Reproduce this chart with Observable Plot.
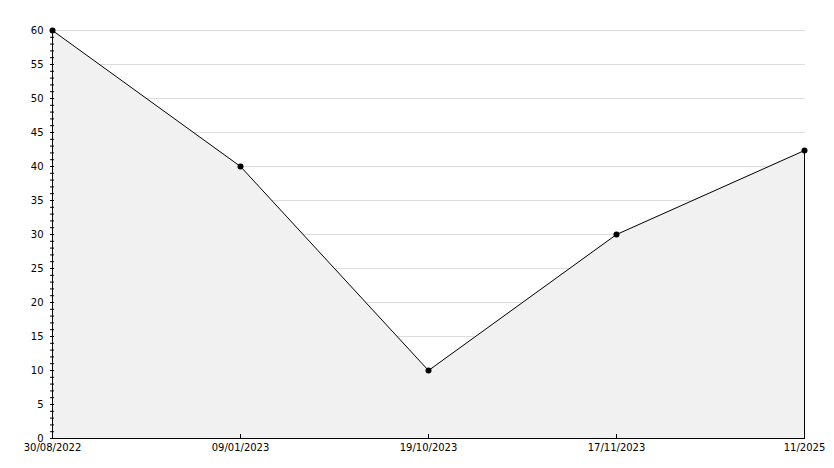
<!DOCTYPE html>
<html><head><meta charset="utf-8">
<script src="https://cdn.jsdelivr.net/npm/d3@7"></script>
<script src="https://cdn.jsdelivr.net/npm/@observablehq/plot@0.6"></script>
<style>body{margin:0;background:#fff}</style>
</head><body><div id="chart"></div>
<script>
const dates = ["30/08/2022", "09/01/2023", "19/10/2023", "17/11/2023", "11/2025"];
const values = [60, 40, 10, 30, 42.35];
const yLabelTicks = [0, 5, 10, 15, 20, 25, 30, 35, 40, 45, 50, 55, 60];
const yMinorTicks = d3.range(0, 61, 1);

const data = dates.map((d, i) => ({date: d, value: values[i]}));
const W = 834, H = 468, mL = 50, mR = 29, mT = 30, mB = 30;
const pw = W - mL - mR, ph = H - mT - mB;

const chart = Plot.plot({
  width: W, height: H,
  marginLeft: mL, marginRight: mR, marginTop: mT, marginBottom: mB,
  style: {fontFamily: "DejaVu Sans", fontSize: "10px", color: "#000", background: "#fff"},
  x: {type: "point", domain: dates, padding: 0, label: null},
  y: {domain: [0, 60], label: null},
  marks: [
    Plot.ruleY(yLabelTicks.filter(d => d > 0), {stroke: "#dddddd", strokeWidth: 1}),
    Plot.areaY(data, {x: "date", y: "value", fill: "#f1f1f1"}),
    Plot.ruleY(yMinorTicks, {stroke: "#000", insetRight: pw - 4}),
    Plot.ruleX(dates, {stroke: "#000", insetTop: ph - 4}),
    Plot.ruleX([dates[dates.length - 1]], {y1: 0, y2: values[values.length - 1], stroke: "#000"}),
    Plot.ruleX([dates[0]], {stroke: "#000"}),
    Plot.ruleY([0], {stroke: "#000"}),
    Plot.lineY(data, {x: "date", y: "value", stroke: "#000", strokeWidth: 1}),
    Plot.dot(data, {x: "date", y: "value", r: 3, fill: "#000", stroke: null}),
    Plot.axisY({ticks: yLabelTicks, tickSize: 0, tickPadding: 7, label: null}),
    Plot.axisX({tickSize: 0, tickPadding: 5, label: null})
  ]
});
document.getElementById("chart").appendChild(chart);
</script>
</body></html>
